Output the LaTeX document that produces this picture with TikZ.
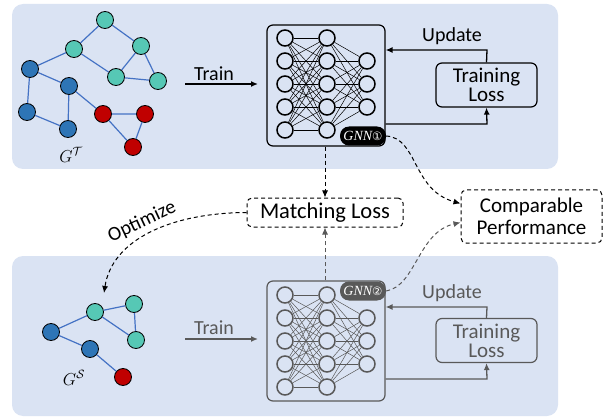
\documentclass[tikz,border=0pt]{standalone}
\usepackage{fontspec}
\setmainfont{Carlito}
\newfontfamily\dejavu{DejaVu Sans}
\newfontfamily\seriffont{Liberation Serif}
\usetikzlibrary{arrows.meta}
\definecolor{panel}{HTML}{DAE3F3}
\definecolor{teal1}{HTML}{56C8B5}
\definecolor{blue1}{HTML}{2E75B6}
\definecolor{red1}{HTML}{C00000}
\definecolor{edgeblue}{HTML}{4472C4}
\definecolor{gray1}{HTML}{595959}
\begin{document}
\begin{tikzpicture}[x=1pt,y=-1pt,
  panelbox/.style={fill=panel,rounded corners=11pt},
  gn/.style={circle,draw=black,line width=0.8pt,minimum size=17pt,inner sep=0pt},
  gedge/.style={draw=edgeblue,line width=1.2pt},
  neuron/.style={circle,draw,line width=1.5pt,minimum size=16pt,inner sep=0pt},
  conn/.style={line width=0.5pt},
  nnbox/.style={draw,rounded corners=6pt,line width=1.2pt,minimum width=118pt,inner sep=0pt},
  tlbox/.style={draw,rounded corners=6pt,line width=1.2pt,minimum width=101pt,minimum height=44pt,align=center,inner sep=0pt,font=\fontsize{21}{19}\selectfont},
  dbox/.style={draw,dash pattern=on 4pt off 3pt,rounded corners=5pt,line width=1pt,align=center,inner sep=0pt},
  lbl/.style={font=\fontsize{20}{22}\selectfont,inner sep=0pt},
  pill/.style={rounded corners=9pt,minimum width=46pt,minimum height=19pt,inner sep=0pt,text=white,font=\fontsize{14}{14}\selectfont},
  arr/.style={-{Latex[length=7pt,width=6pt]},line width=1.3pt},
  darr/.style={-{Latex[length=7pt,width=6pt]},line width=1pt,dash pattern=on 4pt off 3pt},
  glabel/.style={font=\fontsize{18}{18}\selectfont,inner sep=0pt}
]
\useasboundingbox (0,0) rectangle (608,417);
% panels
\fill[panelbox] (12,4) rectangle (558,169);
\fill[panelbox] (12,256) rectangle (558,416);

% ---------- top graph ----------
\node[gn,fill=teal1] (t1) at (105,20) {};
\node[gn,fill=teal1] (t2) at (74,49) {};
\node[gn,fill=teal1] (t3) at (141,46) {};
\node[gn,fill=teal1] (t4) at (116,77) {};
\node[gn,fill=teal1] (t5) at (158,81) {};
\node[gn,fill=blue1] (b1) at (30,69) {};
\node[gn,fill=blue1] (b2) at (69,86) {};
\node[gn,fill=blue1] (b3) at (27,112) {};
\node[gn,fill=blue1] (b4) at (68,129) {};
\node[gn,fill=red1] (r1) at (103,114) {};
\node[gn,fill=red1] (r2) at (145,114) {};
\node[gn,fill=red1] (r3) at (133,147) {};
\draw[gedge] (t1)--(t2) (t1)--(t3) (t2)--(b1) (t2)--(t4) (t3)--(t4) (t3)--(t5) (t4)--(t5)
  (b1)--(b2) (b1)--(b3) (b3)--(b4) (b2)--(b4) (b2)--(r1) (r1)--(r2) (r1)--(r3) (r2)--(r3);
\node[glabel] (gt) at (71,155) {$G^{\mathcal{T}}$};

% ---------- top NN ----------
\node[nnbox,minimum height=121pt] (nn1) at (326,85.5) {};
\foreach \i in {1,...,5} {
  \node[neuron] (ta\i) at (285,{15+23*\i}) {};
  \node[neuron] (tb\i) at (327,{15+23*\i}) {};
}
\foreach \i in {2,3,4} \node[neuron] (tc\i) at (367,{15+23*\i}) {};
\foreach \i in {1,...,5} {
  \foreach \j in {1,...,5} \draw[conn] (ta\i) -- (tb\j);
  \foreach \j in {2,3,4} \draw[conn] (tb\i) -- (tc\j);
}
\node[pill,fill=black] (p1) at (363,136) {{\seriffont\itshape GNN}{\dejavu\fontsize{11.5}{11.5}\selectfont ①}};

% training loss top
\node[tlbox] (tl1) at (486.5,85) {Training\\Loss};
\coordinate (u1) at (487,50);
\draw[arr] (tl1.north) -- (u1) -- (nn1.east |- u1);
\node[lbl] (up1) at (452,36) {Update};
\coordinate (d1) at (487,124);
\draw[arr] (nn1.east |- d1) -- (d1) -- (tl1.south);

% train arrow top
\coordinate (tr1s) at (185,84);
\coordinate (tr1e) at (258,84);
\draw[arr] (tr1s) -- (tr1e);
\node[lbl] (tr1) at (214,74) {Train};

% ---------- middle ----------
\node[dbox,minimum width=156pt,minimum height=29pt,font=\fontsize{22.5}{22}\selectfont] (ml) at (325,212.5) {Matching Loss};
\node[dbox,minimum width=141pt,minimum height=53pt,font=\fontsize{21}{22}\selectfont] (cp) at (531.5,216.5) {Comparable\\Performance};
\draw[darr] (nn1.south -| ml.north) -- (ml.north);
\draw[darr] (p1.east) .. controls (418,138) and (412,190) .. ([yshift=13pt]cp.west);

% ---------- bottom graph ----------
\node[gn,fill=teal1] (s1) at (95,312) {};
\node[gn,fill=teal1] (s2) at (134,304) {};
\node[gn,fill=teal1] (s3) at (136,340) {};
\node[gn,fill=blue1] (s4) at (51,332) {};
\node[gn,fill=blue1] (s5) at (90,349) {};
\node[gn,fill=red1] (s6) at (123,377) {};
\draw[gedge] (s1)--(s2) (s1)--(s3) (s2)--(s3) (s4)--(s1) (s4)--(s5) (s5)--(s6);
\node[glabel] (gs) at (74,378) {$G^{\mathcal{S}}$};

% optimize
\draw[darr] (ml.west) .. controls (170,213) and (112,240) .. (104,293);
\node[lbl,rotate=25] (opt) at (142,222) {Optimize};

% ---------- bottom NN ----------
\begin{scope}[draw=gray1,color=gray1]
\node[nnbox,draw=gray1,minimum height=120pt] (nn2) at (326,341) {};
\foreach \i in {1,...,5} {
  \node[neuron,draw=gray1] (ba\i) at (285,{272+23*\i}) {};
  \node[neuron,draw=gray1] (bb\i) at (327,{272+23*\i}) {};
}
\foreach \i in {2,3,4} \node[neuron,draw=gray1] (bc\i) at (367,{272+23*\i}) {};
\foreach \i in {1,...,5} {
  \foreach \j in {1,...,5} \draw[conn,gray1] (ba\i) -- (bb\j);
  \foreach \j in {2,3,4} \draw[conn,gray1] (bb\i) -- (bc\j);
}
\node[pill,fill=gray1] (p2) at (363,291) {{\seriffont\itshape GNN}{\dejavu\fontsize{11.5}{11.5}\selectfont ②}};
\node[tlbox,draw=gray1,text=gray1] (tl2) at (486.5,340.5) {Training\\Loss};
\coordinate (u2) at (487,307);
\draw[arr,gray1] (tl2.north) -- (u2) -- (nn2.east |- u2);
\node[lbl,text=gray1] (up2) at (452,293) {Update};
\coordinate (d2) at (487,379);
\draw[arr,gray1] (nn2.east |- d2) -- (d2) -- (tl2.south);
\coordinate (tr2s) at (185,339);
\coordinate (tr2e) at (258,339);
\draw[arr,gray1] (tr2s) -- (tr2e);
\node[lbl,text=gray1] (tr2) at (214,328) {Train};
\draw[darr,gray1] (nn2.north -| ml.south) -- (ml.south);
\draw[darr,gray1] (p2.east) .. controls (416,286) and (418,232) .. ([yshift=-6pt]cp.west);
\end{scope}
\end{tikzpicture}
\end{document}
